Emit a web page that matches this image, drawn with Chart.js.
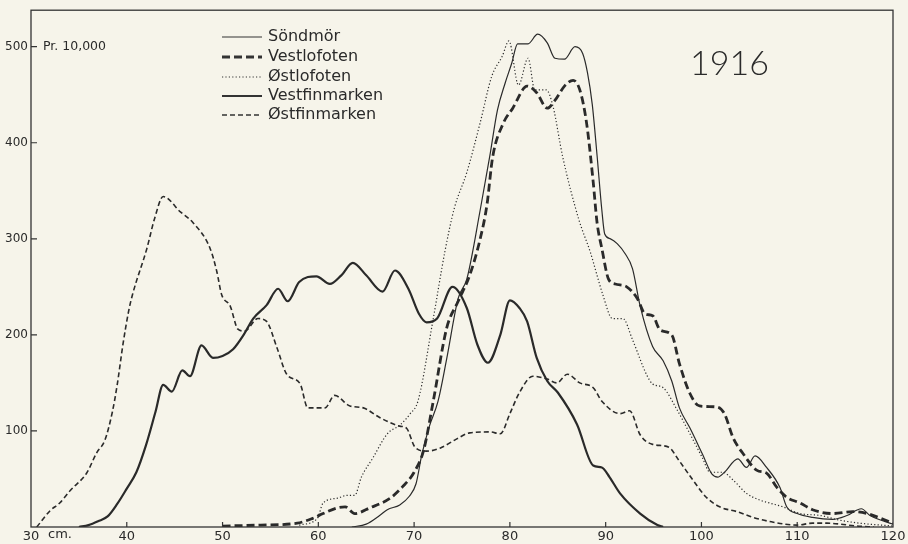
<!DOCTYPE html>
<html>
<head>
<meta charset="utf-8">
<script src="https://cdn.jsdelivr.net/npm/chart.js@4.4.1/dist/chart.umd.min.js"></script>
<style>
  html, body { margin: 0; padding: 0; background: #f6f4ea; }
  #wrap { width: 908px; height: 544px; }
</style>
</head>
<body>
<div id="wrap"><canvas id="chart" width="908" height="544"></canvas></div>
<script>
// axis ticks
const xTicks = [30, 40, 50, 60, 70, 80, 90, 100, 110, 120];
const yTicks = [100, 200, 300, 400, 500];

const seriesNames = ['Söndmör', 'Vestlofoten', 'Østlofoten', 'Vestfinmarken', 'Østfinmarken'];

// length (cm) / number per 10,000
const sondmorX = [63.5, 65, 66.4, 67.2, 68.5, 69.5, 70.2, 70.8, 71.6, 72.5, 73.4, 74.6, 75.5, 76.9, 77.9, 78.7, 79.5, 80.2, 80.8, 81.9, 82.9, 83.9, 84.7, 85.7, 86.8, 87.6, 88.1, 88.6, 89.1, 89.6, 89.9, 90.5, 91.2, 92, 92.8, 93.6, 94.9, 96, 96.9, 97.7, 98.8, 100.1, 101.1, 101.7, 102.4, 103.8, 104.7, 105.6, 106.8, 108.2, 108.9, 110, 111.6, 113.7, 115.2, 116.7, 117.6, 120];
const sondmorY = [0, 3, 12, 18, 23, 32, 45, 75, 105, 131, 175, 238, 258, 330, 386, 434, 462, 483, 503, 503, 513, 504, 488, 487, 500, 493, 473, 440, 387, 330, 305, 300, 295, 285, 269, 230, 188, 173, 152, 124, 103, 76, 55, 52, 57, 71, 62, 74, 62, 41, 21, 14, 10, 8, 12, 19, 12, 3];

const vestlofotenX = [50, 54, 57.8, 59.4, 60.5, 62, 62.8, 63.8, 65.4, 67.5, 68.8, 70, 71, 72, 73.4, 74.6, 75.8, 76.9, 77.6, 78.2, 79.3, 80.3, 81.8, 82.8, 83.9, 84.7, 85.7, 86.6, 87.3, 88, 88.7, 89.1, 89.6, 90.3, 91, 92.2, 93.3, 94.1, 94.9, 95.7, 96.9, 97.7, 98.8, 99.8, 101.6, 102.4, 103.3, 104.3, 105.8, 106.8, 107.9, 108.9, 110.3, 111.6, 113.7, 115.8, 117.3, 120];
const vestlofotenY = [1, 2, 4, 9, 14, 20, 21, 14, 20, 30, 42, 57, 80, 131, 207, 235, 262, 300, 335, 385, 420, 436, 459, 452, 436, 444, 459, 465, 455, 421, 359, 317, 290, 258, 253, 250, 238, 222, 220, 205, 200, 170, 139, 126, 125, 118, 93, 77, 59, 56, 41, 31, 25, 18, 14, 16, 14, 4];

const ostlofotenX = [58, 59.9, 60.5, 62, 63, 63.8, 64.5, 65.7, 67.2, 68.5, 69.6, 70.4, 72, 73.2, 74.2, 75.5, 76.9, 78.1, 79.2, 79.9, 80.9, 81.9, 82.6, 83.8, 84.5, 85.5, 87.2, 88.4, 89.7, 90.7, 91.8, 92.8, 94.3, 94.9, 96, 97.4, 98.8, 100.1, 100.9, 102.2, 103.3, 104.7, 106.1, 107.1, 108.5, 110.3, 112.4, 114.5, 116.5, 120];
const ostlofotenY = [2, 9, 25, 30, 33, 33, 52, 72, 97, 106, 118, 131, 217, 286, 332, 369, 421, 469, 490, 506, 460, 488, 455, 455, 438, 386, 320, 286, 242, 217, 217, 195, 158, 149, 145, 123, 97, 72, 57, 57, 49, 35, 28, 25, 21, 14, 12, 7, 4, 1];

const vestfinmarkenX = [35, 36, 37, 38, 39, 40, 41, 42, 43, 43.8, 44.7, 45.8, 46.6, 47.8, 49, 50, 51.1, 52.2, 53.2, 54.6, 55.8, 56.8, 58, 59.8, 61.2, 62.4, 63.6, 65, 66.7, 68, 69.4, 70.5, 71.3, 72.4, 74, 75.5, 76.6, 77.7, 79, 80, 81, 81.8, 82.8, 83.9, 85, 87, 88.7, 89.6, 90.4, 91.5, 93.6, 95.4, 96];
const vestfinmarkenY = [0, 2, 6, 11, 24, 40, 57, 85, 120, 148, 141, 163, 157, 189, 176, 178, 185, 200, 217, 231, 248, 235, 255, 261, 253, 262, 275, 262, 245, 267, 248, 222, 213, 217, 250, 228, 190, 171, 200, 236, 228, 214, 176, 152, 140, 107, 64, 62, 52, 35, 14, 2, 0];

const ostfinmarkenX = [30.6, 32, 33, 34.1, 35.8, 36.9, 37.7, 38.5, 39, 39.6, 40.2, 40.6, 42.1, 42.9, 43.8, 45.6, 46.9, 48.7, 49.4, 49.9, 50.8, 51.6, 52.3, 53.7, 54.6, 55.7, 56.7, 58.1, 58.9, 60.7, 61.7, 63.3, 64.7, 66.4, 68.5, 69.2, 70.1, 71.3, 72.7, 74.5, 75.8, 77.9, 79, 80, 81, 82.4, 83.9, 84.9, 86, 87.3, 88.7, 89.6, 91.5, 92.5, 93.6, 94.9, 96.6, 97.6, 99.1, 100.5, 101.9, 103.7, 105.4, 107.5, 110, 111.6, 113.1, 114.5, 116.2, 118];
const ostfinmarkenY = [0, 17, 25, 38, 56, 78, 90, 120, 148, 190, 225, 242, 290, 321, 344, 328, 317, 290, 266, 242, 230, 206, 204, 217, 214, 186, 159, 149, 124, 124, 137, 126, 124, 114, 105, 103, 83, 79, 82, 92, 98, 99, 97, 118, 140, 157, 154, 150, 159, 150, 145, 131, 118, 121, 96, 86, 83, 70, 49, 31, 21, 16, 10, 5, 2, 4, 4, 3, 1, 0];

const ink = '#2a2a2a';
const paperColor = '#f6f4ea';

function pts(xs, ys) {
  return xs.map((x, i) => ({ x: x, y: ys[i] }));
}

function series(label, xs, ys, width, dash) {
  return {
    label: label,
    data: pts(xs, ys),
    borderColor: ink,
    borderWidth: width,
    borderDash: dash,
    pointRadius: 0,
    fill: false,
    cubicInterpolationMode: 'monotone'
  };
}

// background, frame, inner tick marks, titles and the legend
const paper = {
  id: 'paper',
  beforeDraw(chart) {
    const ctx = chart.ctx;
    ctx.save();
    ctx.fillStyle = paperColor;
    ctx.fillRect(0, 0, chart.width, chart.height);
    ctx.restore();
  },
  afterDraw(chart) {
    const ctx = chart.ctx;
    const a = chart.chartArea;
    const xs = chart.scales.x, ys = chart.scales.y;
    ctx.save();
    ctx.strokeStyle = '#333';
    ctx.lineWidth = 1.3;
    ctx.strokeRect(a.left, a.top, a.right - a.left, a.bottom - a.top);

    ctx.lineWidth = 1.2;
    ctx.beginPath();
    yTicks.forEach(v => {
      const y = ys.getPixelForValue(v);
      ctx.moveTo(a.left, y);
      ctx.lineTo(a.left + 6, y);
    });
    xTicks.slice(1, -1).forEach(v => {
      const x = xs.getPixelForValue(v);
      ctx.moveTo(x, a.bottom);
      ctx.lineTo(x, a.bottom - 5);
    });
    ctx.stroke();

    ctx.fillStyle = ink;
    ctx.textBaseline = 'middle';
    ctx.textAlign = 'left';
    ctx.font = '13px "DejaVu Sans"';
    ctx.fillText('cm.', xs.getPixelForValue(30) + 17, 535);
    ctx.font = '12.5px "DejaVu Sans"';
    ctx.fillText('Pr. 10,000', 43, ys.getPixelForValue(500));
    ctx.font = '300 34px Lato';
    ctx.fillText('1916', 690, 64);

    // legend
    const rows = [37, 57, 77, 96, 115];
    chart.data.datasets.forEach((ds, i) => {
      const y = rows[i];
      ctx.beginPath();
      ctx.lineWidth = ds.borderWidth;
      ctx.setLineDash(ds.borderDash || []);
      ctx.moveTo(222, y);
      ctx.lineTo(262, y);
      ctx.stroke();
      ctx.setLineDash([]);
      ctx.font = '16px "DejaVu Sans"';
      ctx.fillText(ds.label, 268, y);
    });
    ctx.restore();
  }
};

new Chart(document.getElementById('chart'), {
  type: 'line',
  data: {
    datasets: [
      series(seriesNames[0], sondmorX, sondmorY, 1.2, []),
      series(seriesNames[1], vestlofotenX, vestlofotenY, 2.8, [8, 4]),
      series(seriesNames[2], ostlofotenX, ostlofotenY, 1.2, [1.2, 2.2]),
      series(seriesNames[3], vestfinmarkenX, vestfinmarkenY, 2.2, []),
      series(seriesNames[4], ostfinmarkenX, ostfinmarkenY, 1.6, [5, 3])
    ]
  },
  options: {
    responsive: false,
    animation: false,
    devicePixelRatio: 1,
    layout: { padding: { top: 7, right: 15, left: 0, bottom: 0 } },
    plugins: { legend: { display: false }, tooltip: { enabled: false } },
    scales: {
      x: {
        type: 'linear',
        min: 30,
        max: 120,
        afterBuildTicks: s => { s.ticks = xTicks.map(v => ({ value: v })); },
        afterFit: s => { s.height = 17; },
        grid: { display: false, drawTicks: false },
        border: { display: false },
        ticks: { color: ink, padding: 2, maxRotation: 0, font: { family: 'DejaVu Sans', size: 13 } }
      },
      y: {
        min: 0,
        max: 538,
        afterBuildTicks: s => { s.ticks = yTicks.map(v => ({ value: v })); },
        afterFit: s => { s.width = 31; },
        grid: { display: false, drawTicks: false },
        border: { display: false },
        ticks: { color: ink, padding: 3, font: { family: 'DejaVu Sans', size: 12 } }
      }
    }
  },
  plugins: [paper]
});
</script>
</body>
</html>
